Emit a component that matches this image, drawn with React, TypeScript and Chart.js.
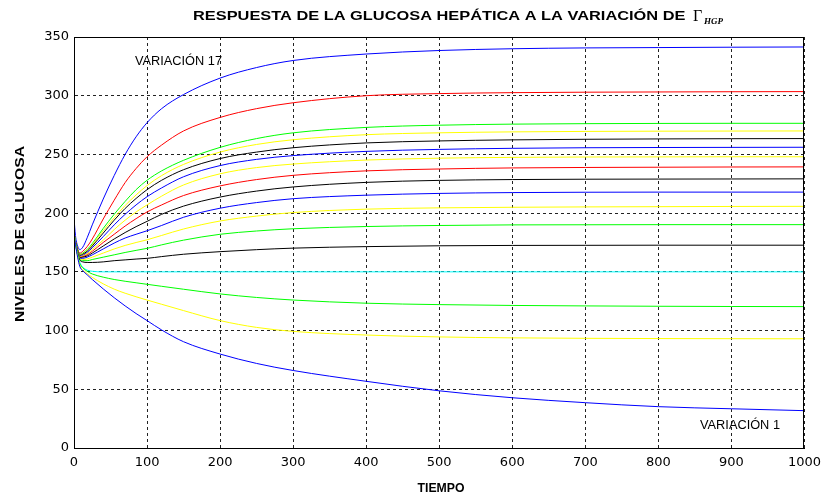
import React, { useEffect, useRef } from "react";
import { Chart, registerables } from "chart.js";

Chart.register(...registerables);

const TIME = [0, 2, 5, 8, 12, 18, 25, 40, 55, 70, 85, 100, 120, 150, 200, 250, 300, 400, 500, 600, 700, 800, 900, 1000];

const VAR_01 = [183, 173.5, 162.5, 154.5, 151, 147.5, 143.5, 135.5, 128, 121, 114.5, 108.5, 100.5, 90.5, 80, 72, 66, 56.8, 48.7, 42.8, 38.6, 35.2, 33.4, 31.8];
const VAR_02 = [183, 174, 163.5, 155.5, 152, 148.5, 145.3, 139.8, 135.3, 131.8, 128.8, 126, 122.4, 117, 108.5, 102.7, 99.3, 96.2, 94.6, 93.8, 93.4, 93.2, 93.1, 93];
const VAR_03 = [183, 174, 164, 157, 153.5, 150.5, 148.2, 145.5, 143.5, 142, 140.7, 139.4, 137.7, 135.2, 131.2, 128.2, 126, 123.3, 122.1, 121.4, 121, 120.7, 120.5, 120.4];
const VAR_04 = [183, 174, 164, 158, 154, 151.5, 150.5, 150, 150, 150, 150, 150, 150, 150, 150, 150, 150, 150, 150, 150, 150, 150, 150, 150];
const VAR_05 = [183, 175, 165.5, 160, 158.5, 158, 158, 158.5, 159.5, 160.2, 160.9, 161.5, 163, 165, 167.2, 168.9, 170.2, 171.5, 172.2, 172.5, 172.6, 172.7, 172.7, 172.7];
const VAR_06 = [183, 175, 166, 160.5, 159.5, 159.5, 160.5, 162.5, 164.5, 166.5, 168.3, 170, 173, 177, 182, 184.8, 186.7, 188.6, 189.5, 190, 190.1, 190.2, 190.2, 190.2];
const VAR_07 = [183, 175, 166.5, 161, 160.5, 161, 162.5, 166, 169.5, 172.5, 175, 177.3, 181, 186.5, 193.3, 197.5, 200.5, 203.4, 204.5, 205, 205.3, 205.5, 205.7, 205.8];
const VAR_08 = [183, 175.5, 167, 161.5, 161.5, 162.5, 164.5, 169.5, 174.5, 178.8, 182, 185, 189.5, 196.5, 204.2, 209, 212.3, 215.3, 216.8, 217.5, 217.8, 217.9, 217.9, 217.9];
const VAR_09 = [183, 175.5, 167.5, 162, 162.5, 163.5, 166, 172, 178, 183.5, 188.5, 193, 199, 206, 213.7, 218.8, 222.3, 226.2, 227.9, 228.6, 228.9, 229, 229.1, 229.2];
const VAR_10 = [183, 176, 168, 162.5, 163, 164.5, 167.5, 175, 182, 189, 195.3, 201, 207, 215, 223.2, 228.6, 232.2, 236, 237.6, 238.5, 238.9, 239.1, 239.3, 239.4];
const VAR_11 = [183, 176, 168.5, 163, 163.5, 165.5, 169, 177, 186, 194, 201, 207, 214.5, 224, 233.5, 238.8, 241.8, 245.2, 246.8, 247.5, 247.8, 247.9, 248, 248];
const VAR_12 = [183, 176, 168.5, 163.5, 164, 166.5, 170.5, 180, 190, 199, 207, 214, 221.5, 231, 240.5, 245.8, 249, 252.6, 254.3, 255.2, 255.7, 255.9, 256, 256.1];
const VAR_13 = [183, 176, 169, 164, 165, 167.5, 172, 183, 194, 204, 212.5, 220, 228, 237, 246.5, 252, 255.7, 259.8, 261.5, 262.4, 262.9, 263.2, 263.4, 263.5];
const VAR_14 = [183, 176, 169, 164.5, 165.5, 168, 173, 185, 196, 206.5, 215.5, 223.5, 232, 241.5, 252, 258.5, 262.5, 266.8, 268.4, 269.2, 269.6, 269.8, 269.9, 270];
const VAR_15 = [183, 176, 169, 165, 166, 169, 174, 187, 199, 210, 220, 228, 236, 245, 256, 263.5, 268.4, 273, 274.9, 275.8, 276.2, 276.4, 276.5, 276.5];
const VAR_16 = [183, 176, 169, 166, 167.5, 171.5, 178, 195, 211, 226, 238, 248, 258, 270, 281.5, 289, 294, 300, 301.8, 302.6, 303, 303.2, 303.4, 303.5];
const VAR_17 = [196, 181, 172, 169, 171, 179, 190, 212, 232, 250, 265, 277, 289, 301, 315, 324, 330, 335.5, 338.5, 340, 340.7, 341, 341.3, 341.5];

const SERIES = [VAR_01, VAR_02, VAR_03, VAR_04, VAR_05, VAR_06, VAR_07, VAR_08, VAR_09, VAR_10, VAR_11, VAR_12, VAR_13, VAR_14, VAR_15, VAR_16, VAR_17];
const COLORS = ["#0000ff", "#ffff00", "#00ff00", "#00ffff", "#000000", "#00ff00", "#ffff00", "#0000ff", "#000000", "#ff0000", "#ffff00", "#0000ff", "#000000", "#ffff00", "#00ff00", "#ff0000", "#0000ff"];

const X_TICKS = [0, 100, 200, 300, 400, 500, 600, 700, 800, 900, 1000];
const Y_TICKS = [0, 50, 100, 150, 200, 250, 300, 350];

const TITLE = "RESPUESTA DE LA GLUCOSA HEPÁTICA A LA VARIACIÓN DE ";
const X_LABEL = "TIEMPO";
const Y_LABEL = "NIVELES DE GLUCOSA";
const NOTE_TOP = "VARIACIÓN 17";
const NOTE_BOTTOM = "VARIACIÓN 1";

function fitText(ctx: CanvasRenderingContext2D, text: string, x: number, y: number, font: string, width: number, rot = 0) {
  ctx.save();
  ctx.font = font;
  const w = ctx.measureText(text).width;
  ctx.translate(x, y);
  if (rot) ctx.rotate(rot);
  ctx.scale(width / w, 1);
  ctx.textAlign = "left";
  ctx.textBaseline = "alphabetic";
  ctx.fillText(text, 0, 0);
  ctx.restore();
}

const textPlugin = {
  id: "textPlugin",
  afterDraw(chart: any) {
    const ctx: CanvasRenderingContext2D = chart.ctx;
    const a = chart.chartArea;
    ctx.save();
    ctx.strokeStyle = "#000";
    ctx.lineWidth = 1;
    ctx.setLineDash([]);
    ctx.strokeRect(Math.round(a.left) + 0.5, Math.round(a.top) + 0.5, Math.round(a.right - a.left) - 1, Math.round(a.bottom - a.top));
    ctx.fillStyle = "#000";
    fitText(ctx, TITLE, 193, 20, "bold 13px 'Liberation Sans', Arial", 497);
    ctx.font = "16px 'Liberation Serif', 'Times New Roman', serif";
    ctx.fillText("Γ", 693, 21);
    ctx.font = "italic bold 9px 'Liberation Serif', 'Times New Roman', serif";
    ctx.fillText("HGP", 704, 24);
    const xl = 47;
    fitText(ctx, X_LABEL, 441 - xl / 2, 492, "bold 13px 'Liberation Sans', Arial", xl);
    const yl = 176;
    fitText(ctx, Y_LABEL, 24, 234 + yl / 2, "bold 13px 'Liberation Sans', Arial", yl, -Math.PI / 2);
    fitText(ctx, NOTE_TOP, 135, 65, "12px 'Liberation Sans', Arial", 87);
    fitText(ctx, NOTE_BOTTOM, 700, 429, "12px 'Liberation Sans', Arial", 80);
    ctx.restore();
  },
};

export default function App() {
  const ref = useRef<HTMLCanvasElement>(null);
  useEffect(() => {
    document.body.style.margin = "0";
    const canvas = ref.current!;
    const datasets = SERIES.map((s, i) => ({
      label: "Variación " + (i + 1),
      data: TIME.map((t, j) => ({ x: t, y: s[j] })),
      borderColor: COLORS[i],
      backgroundColor: COLORS[i],
      borderWidth: 1,
      pointRadius: 0,
      fill: false,
      cubicInterpolationMode: "monotone" as const,
    }));
    const chart = new Chart(canvas, {
      type: "line",
      data: { datasets },
      options: {
        animation: false,
        responsive: false,
        devicePixelRatio: 1,
        layout: { padding: { top: 37, right: 20, bottom: 0, left: 0 } },
        plugins: { legend: { display: false }, tooltip: { enabled: false }, title: { display: false } },
        scales: {
          x: {
            type: "linear",
            min: 0,
            max: 1000,
            afterFit: (s: any) => { s.height = 46; },
            afterBuildTicks: (s: any) => { s.ticks = X_TICKS.map((v) => ({ value: v })); },
            ticks: { color: "#000", font: { family: "'DejaVu Sans'", size: 13 }, padding: 7, maxRotation: 0, autoSkip: false, callback: (v: any) => String(v) },
            grid: { color: "#222", drawTicks: false, lineWidth: 1 },
            border: { display: true, color: "#000", dash: [3, 3] },
          },
          y: {
            type: "linear",
            min: 0,
            max: 350,
            afterFit: (s: any) => { s.width = 74; },
            afterBuildTicks: (s: any) => { s.ticks = Y_TICKS.map((v) => ({ value: v })); },
            ticks: { color: "#000", font: { family: "'DejaVu Sans'", size: 13 }, padding: 5, autoSkip: false, callback: (v: any) => String(v) },
            grid: { color: "#222", drawTicks: false, lineWidth: 1 },
            border: { display: true, color: "#000", dash: [3, 3] },
          },
        },
      },
      plugins: [textPlugin],
    });
    return () => chart.destroy();
  }, []);
  return (
    <div style={{ position: "absolute", left: 0, top: 0, width: 828, height: 494, background: "#fff" }}>
      <canvas ref={ref} width={828} height={494} style={{ display: "block" }} />
    </div>
  );
}
